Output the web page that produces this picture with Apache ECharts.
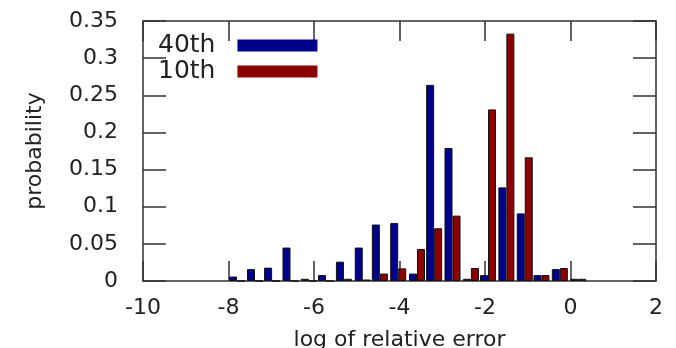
<!DOCTYPE html>
<html>
<head>
<meta charset="utf-8">
<script src="https://cdn.jsdelivr.net/npm/echarts@6/dist/echarts.min.js"></script>
<style>
    html,body{margin:0;padding:0;background:#fff;}
    #chart{width:676px;height:348px;}
</style>
</head>
<body>
<div id="chart"></div>
<script>
    // bin centres (log of relative error)
    var binCenters = [-7.80, -7.38, -6.98, -6.55, -6.12, -5.72, -5.30, -4.86, -4.46, -4.03,
                      -3.59, -3.19, -2.76, -2.33, -1.93, -1.50, -1.07, -0.68, -0.25, 0.18];
    var p40 = [0.006, 0.016, 0.018, 0.045, 0.003, 0.008, 0.026, 0.045, 0.076, 0.078,
               0.010, 0.264, 0.179, 0.003, 0.008, 0.126, 0.091, 0.008, 0.016, 0.003];
    var p10 = [0, 0, 0, 0, 0, 0, 0.003, 0.002, 0.010, 0.017,
               0.043, 0.071, 0.088, 0.0175, 0.231, 0.333, 0.1665, 0.008, 0.0175, 0.003];
    var seriesNames = ['40th', '10th'];

    function pairs(vals) {
        var out = [];
        for (var i = 0; i < binCenters.length; i++) {
            out.push([binCenters[i], vals[i]]);
        }
        return out;
    }

    var font = 'DejaVu Sans';
    var tickColor = '#333';

    function legendItem(name, top) {
        return {
            orient: 'vertical',
            left: 158, top: top,
            padding: 0,
            align: 'right',
            itemWidth: 80, itemHeight: 12,
            icon: 'rect',
            itemStyle: {borderWidth: 0},
            textStyle: {fontFamily: font, fontSize: 25, color: '#222', padding: [0, 17, 0, 0]},
            data: [name]
        };
    }

    function xTicks(pos) {
        return {
            type: 'value', min: -10, max: 2, interval: 2, position: pos,
            axisLine: {show: false, onZero: false},
            axisTick: {inside: true, length: 20, lineStyle: {color: tickColor, width: 1.5}},
            axisLabel: {show: pos == 'bottom', fontFamily: font, fontSize: 22, color: '#222', margin: 16},
            splitLine: {show: false}
        };
    }

    function yTicks(pos) {
        return {
            type: 'value', min: 0, max: 0.35, interval: 0.05, position: pos,
            axisLine: {show: false, onZero: false},
            axisTick: {inside: true, length: 23, lineStyle: {color: tickColor, width: 1.5}},
            axisLabel: {show: pos == 'left', fontFamily: font, fontSize: 22, color: '#222', margin: 25},
            splitLine: {show: false}
        };
    }

    var xBottom = xTicks('bottom');
    xBottom.name = 'log of relative error';
    xBottom.nameLocation = 'middle';
    xBottom.nameGap = 48;
    xBottom.nameTextStyle = {fontFamily: font, fontSize: 22, color: '#222'};

    var yLeft = yTicks('left');
    yLeft.name = 'probability';
    yLeft.nameLocation = 'middle';
    yLeft.nameGap = 97;
    yLeft.nameTextStyle = {fontFamily: font, fontSize: 22, color: '#222'};

    var chart = echarts.init(document.getElementById('chart'));
    var option = {
        animation: false,
        grid: {
            left: 143, right: 20, top: 21, bottom: 67,
            outerBoundsMode: 'none',
            show: true, borderColor: '#333', borderWidth: 1.5
        },
        legend: [legendItem(seriesNames[0], 33), legendItem(seriesNames[1], 59)],
        xAxis: [xBottom, xTicks('top')],
        yAxis: [yLeft, yTicks('right')],
        series: [
            {
                name: seriesNames[0], type: 'bar', barWidth: 8, barGap: '0%',
                itemStyle: {color: '#00008b', borderColor: '#111', borderWidth: 1},
                data: pairs(p40)
            },
            {
                name: seriesNames[1], type: 'bar', barWidth: 8, barGap: '0%',
                itemStyle: {color: '#8b0000', borderColor: '#111', borderWidth: 1},
                data: pairs(p10)
            }
        ]
    };
    chart.setOption(option);
</script>
</body>
</html>
